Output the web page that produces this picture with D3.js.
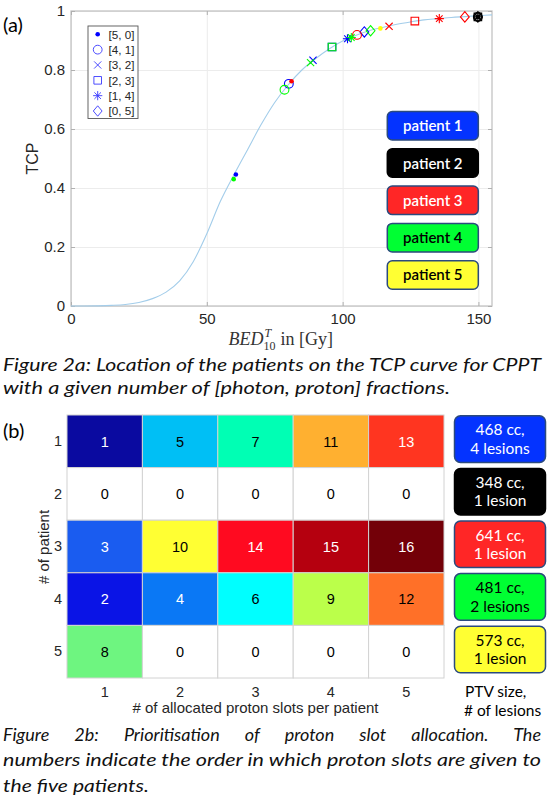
<!DOCTYPE html>
<html>
<head>
<meta charset="utf-8">
<script src="https://cdn.jsdelivr.net/npm/d3@7"></script>
<style>
  body { margin: 0; background: #fff; }
  svg { display: block; }
</style>
</head>
<body>
<div id="chart"></div>
<script>
// ---- data ----
// TCP curve (BED in Gy, TCP)
const bedCurve = [0, 5, 10, 15, 20, 25, 30, 35, 40, 45, 50, 55, 60, 65, 70, 75, 80, 85, 90, 95, 100, 105, 110, 115, 120, 125, 130, 135, 140, 145, 150, 155]
const tcpCurve = [0, 0, 0.0005, 0.002, 0.005, 0.012, 0.025, 0.047, 0.085, 0.15, 0.245, 0.355, 0.445, 0.53, 0.615, 0.69, 0.75, 0.8, 0.838, 0.871, 0.898, 0.918, 0.934, 0.945, 0.955, 0.963, 0.97, 0.974, 0.978, 0.981, 0.984, 0.987]

// [photon, proton] fractions and their marker
const fractionLabels = ['[5, 0]', '[4, 1]', '[3, 2]', '[2, 3]', '[1, 4]', '[0, 5]']
const markerTypes = ['dot', 'circle', 'x', 'square', 'asterisk', 'diamond']

const patientNames = ['patient 1', 'patient 2', 'patient 3', 'patient 4', 'patient 5']
const patientColors = ['#0000ff', '#000000', '#ff0000', '#00ff00', '#ffff00']
const boxColors = ['#0433ff', '#000000', '#ff2626', '#00ff33', '#ffff33']
const boxTextColors = ['#ffffff', '#ffffff', '#ffffff', '#000000', '#000000']

// patient positions on the curve, one entry per fraction split (in fractionLabels order)
const bedP1 = [60.7, 80.2, 89.1, 96.1, 101.8, 108.0]
const tcpP1 = [0.446, 0.753, 0.833, 0.878, 0.906, 0.929]
const bedP2 = [149.8, 149.8, 149.8, 149.8, 149.8, 149.8]
const tcpP2 = [0.98, 0.98, 0.98, 0.98, 0.98, 0.98]
const bedP3 = [81.2, 105.3, 117.1, 126.6, 135.6, 145.0]
const tcpP3 = [0.762, 0.919, 0.948, 0.966, 0.974, 0.98]
const bedP4 = [59.9, 78.6, 88.2, 96.1, 103.2, 110.3]
const tcpP4 = [0.430, 0.733, 0.825, 0.878, 0.910, 0.933]
const bedP5 = [113.9]
const tcpP5 = [0.941]

const xTicksA = [0, 50, 100, 150]
const yTicksA = [0, 0.2, 0.4, 0.6, 0.8, 1]

// heatmap: order in which proton slots are given
const slotCols = ['1', '2', '3', '4', '5']
const patientRows = ['1', '2', '3', '4', '5']
const slotOrder = [
  [1, 5, 7, 11, 13],
  [0, 0, 0, 0, 0],
  [3, 10, 14, 15, 16],
  [2, 4, 6, 9, 12],
  [8, 0, 0, 0, 0]
]
const orderValues = d3.range(0, 17)
const orderColors = ['#ffffff', '#0a0aa0', '#0a14e6', '#1a5cf0', '#0a78f5', '#00bff5', '#00ffff', '#00ffb4', '#6ef580',
  '#bbff4a', '#ffff33', '#ffb030', '#ff7028', '#ff3520', '#ff0a20', '#b5000f', '#730008']
const ptvLabels = [['468 cc,', '4 lesions'], ['348 cc,', '1 lesion'], ['641 cc,', '1 lesion'], ['481 cc,', '2 lesions'], ['573 cc,', '1 lesion']]

// ---- drawing ----
const svg = d3.select('#chart')
  .append('svg')
  .attr('width', 549)
  .attr('height', 800)

svg.append('rect').attr('width', 549).attr('height', 800).attr('fill', '#fff')

const sans = 'Liberation Sans, Arial, sans-serif'
const cal = 'Lato, Open Sans, sans-serif'

// ===== panel (a) =====
const x = d3.scaleLinear().domain([0, 155]).range([71, 492])
const y = d3.scaleLinear().domain([0, 1]).range([306, 11])
const plotH = y(0) - y(1)
const plotW = x(155) - x(0)

// grid
svg.append('g')
  .attr('transform', `translate(0,${y(0)})`)
  .call(d3.axisBottom(x).tickValues(xTicksA).tickSize(-plotH).tickFormat(''))
  .call(g => g.select('.domain').remove())
  .call(g => g.selectAll('line').attr('stroke', '#ececec'))
svg.append('g')
  .attr('transform', `translate(${x(0)},0)`)
  .call(d3.axisLeft(y).tickValues(yTicksA).tickSize(-plotW).tickFormat(''))
  .call(g => g.select('.domain').remove())
  .call(g => g.selectAll('line').attr('stroke', '#ececec'))

// box
svg.append('rect')
  .attr('x', x(0)).attr('y', y(1))
  .attr('width', plotW).attr('height', plotH)
  .attr('fill', 'none').attr('stroke', '#c4c4c4').attr('stroke-width', 1.3)

// ticks + labels
const styleAxis = g => {
  g.select('.domain').remove()
  g.selectAll('line').attr('stroke', '#b0b0b0')
  g.selectAll('text').attr('fill', '#262626').style('font-family', sans).style('font-size', '15px')
}
svg.append('g').attr('transform', `translate(0,${y(0)})`)
  .call(d3.axisBottom(x).tickValues(xTicksA).tickSize(-4).tickPadding(7)).call(styleAxis)
svg.append('g').attr('transform', `translate(0,${y(1)})`)
  .call(d3.axisTop(x).tickValues(xTicksA).tickSize(-4).tickFormat('')).call(styleAxis)
svg.append('g').attr('transform', `translate(${x(0)},0)`)
  .call(d3.axisLeft(y).tickValues(yTicksA).tickSize(-4).tickPadding(6).tickFormat(d3.format('~g'))).call(styleAxis)
svg.append('g').attr('transform', `translate(${x(155)},0)`)
  .call(d3.axisRight(y).tickValues(yTicksA).tickSize(-4).tickFormat('')).call(styleAxis)

// TCP curve
const curveData = bedCurve.map((b, i) => ({ bed: b, tcp: tcpCurve[i] }))
svg.append('path')
  .datum(curveData)
  .attr('d', d3.line().x(d => x(d.bed)).y(d => y(d.tcp)).curve(d3.curveMonotoneX))
  .attr('fill', 'none')
  .attr('stroke', '#a3cdea')
  .attr('stroke-width', 1.1)

// marker shapes
function markerPath(type) {
  const p = d3.path()
  if (type === 'dot') { p.arc(0, 0, 2.3, 0, 2 * Math.PI) }
  else if (type === 'circle') { p.moveTo(4.4, 0); p.arc(0, 0, 4.4, 0, 2 * Math.PI) }
  else if (type === 'x') { p.moveTo(-3.6, -3.6); p.lineTo(3.6, 3.6); p.moveTo(-3.6, 3.6); p.lineTo(3.6, -3.6) }
  else if (type === 'square') { p.rect(-3.8, -3.8, 7.6, 7.6) }
  else if (type === 'asterisk') {
    p.moveTo(-4.6, 0); p.lineTo(4.6, 0); p.moveTo(0, -4.6); p.lineTo(0, 4.6)
    p.moveTo(-3.3, -3.3); p.lineTo(3.3, 3.3); p.moveTo(-3.3, 3.3); p.lineTo(3.3, -3.3)
  }
  else if (type === 'diamond') { p.moveTo(0, -5.2); p.lineTo(4.4, 0); p.lineTo(0, 5.2); p.lineTo(-4.4, 0); p.closePath() }
  return p.toString()
}

const patientBed = [bedP1, bedP2, bedP3, bedP4, bedP5]
const patientTcp = [tcpP1, tcpP2, tcpP3, tcpP4, tcpP5]
const points = []
patientBed.forEach((arr, pi) => arr.forEach((b, fi) => points.push({ bed: b, tcp: patientTcp[pi][fi], type: markerTypes[fi], color: patientColors[pi] })))

svg.append('g').selectAll('path')
  .data(points)
  .join('path')
  .attr('transform', d => `translate(${x(d.bed)},${y(d.tcp)})`)
  .attr('d', d => markerPath(d.type))
  .attr('fill', d => d.type === 'dot' ? d.color : 'none')
  .attr('stroke', d => d.type === 'dot' ? 'none' : d.color)
  .attr('stroke-width', 1.1)

// legend
const legY = d3.scalePoint().domain(fractionLabels).range([34.3, 111])
svg.append('rect')
  .attr('x', 88).attr('y', 26).attr('width', 50).attr('height', 92.5)
  .attr('fill', '#fff').attr('stroke', '#555').attr('stroke-width', 0.9)
const leg = svg.append('g').selectAll('g')
  .data(fractionLabels)
  .join('g')
  .attr('transform', d => `translate(0,${legY(d)})`)
leg.append('path')
  .attr('transform', 'translate(97.7,0)')
  .attr('d', (d, i) => markerPath(markerTypes[i]))
  .attr('fill', (d, i) => markerTypes[i] === 'dot' ? '#0000ff' : 'none')
  .attr('stroke', (d, i) => markerTypes[i] === 'dot' ? 'none' : '#3a3aff')
  .attr('stroke-width', 0.9)
leg.append('text')
  .attr('x', 108.5).attr('dy', '0.36em')
  .text(d => d)
  .attr('fill', '#262626')
  .style('font-family', sans).style('font-size', '11.7px')

// patient colour boxes
const boxY = d3.scaleBand().domain(patientNames).range([111.5, 289.2]).paddingInner(0.236)
const pbox = svg.append('g').selectAll('g')
  .data(patientNames)
  .join('g')
  .attr('transform', d => `translate(387.3,${boxY(d)})`)
pbox.append('rect')
  .attr('width', 91).attr('height', boxY.bandwidth())
  .attr('rx', 5).attr('ry', 5)
  .attr('fill', (d, i) => boxColors[i])
  .attr('stroke', (d, i) => i === 1 ? '#000' : '#2b4a7e')
  .attr('stroke-width', 1.5)
pbox.append('text')
  .attr('x', 45.5).attr('y', boxY.bandwidth() / 2 + 5.5)
  .attr('text-anchor', 'middle')
  .text(d => d)
  .attr('fill', (d, i) => boxTextColors[i])
  .style('font-family', cal).style('font-size', '15px').style('font-weight', 600)

// axis titles
svg.append('text')
  .attr('transform', `translate(38,${(y(0) + y(1)) / 2}) rotate(-90)`)
  .attr('text-anchor', 'middle')
  .text('TCP')
  .attr('fill', '#262626')
  .style('font-family', sans).style('font-size', '16px')

// BED^T_10 in [Gy] as one text element
const xl = svg.append('text')
  .attr('y', 345)
  .attr('fill', '#333')
  .style('font-family', 'Liberation Serif, serif')
  .style('font-size', '18px')
xl.append('tspan').style('font-style', 'italic').text('BED')
const tSup = xl.append('tspan').attr('dx', 1).attr('dy', -8).style('font-size', '12px').style('font-style', 'italic').text('T')
const wT = tSup.node().getComputedTextLength()
xl.append('tspan').attr('dx', -wT - 1).attr('dy', 13).style('font-size', '12px').text('10')
xl.append('tspan').attr('dx', 5).attr('dy', -5).text('in [Gy]')
const wAll = xl.node().getComputedTextLength()
xl.attr('x', (x(0) + x(155)) / 2 - wAll / 2)

svg.append('text').attr('x', 3).attr('y', 32).text('(a)')
  .style('font-family', cal).style('font-size', '20px')

// ===== panel (b) =====
const xb = d3.scaleBand().domain(slotCols).range([67, 444])
const yb = d3.scaleBand().domain(patientRows).range([415, 678])
const colour = d3.scaleOrdinal().domain(orderValues).range(orderColors)

const cells = []
slotOrder.forEach((row, r) => row.forEach((v, c) => cells.push({ row: patientRows[r], col: slotCols[c], v })))

const cell = svg.append('g').selectAll('g')
  .data(cells)
  .join('g')
cell.append('rect')
  .attr('x', d => xb(d.col)).attr('y', d => yb(d.row))
  .attr('width', xb.bandwidth()).attr('height', yb.bandwidth())
  .attr('fill', d => colour(d.v))
  .attr('stroke', '#d2d2d2').attr('stroke-width', 1)
cell.append('text')
  .attr('x', d => xb(d.col) + xb.bandwidth() / 2)
  .attr('y', d => yb(d.row) + yb.bandwidth() / 2)
  .attr('dy', '0.36em')
  .attr('text-anchor', 'middle')
  .text(d => d.v)
  .attr('fill', d => d3.lab(colour(d.v)).l < 60 ? '#ffffff' : '#000000')
  .style('font-family', sans).style('font-size', '14.5px')

const styleHeat = g => {
  g.select('.domain').remove()
  g.selectAll('text').attr('fill', '#262626').style('font-family', sans).style('font-size', '14.5px')
}
svg.append('g').attr('transform', `translate(${xb.range()[0]},0)`)
  .call(d3.axisLeft(yb).tickSize(0).tickPadding(5)).call(styleHeat)
svg.append('g').attr('transform', `translate(0,${yb.range()[1]})`)
  .call(d3.axisBottom(xb).tickSize(0).tickPadding(9)).call(styleHeat)

svg.append('text')
  .attr('transform', `translate(49,547) rotate(-90)`)
  .attr('text-anchor', 'middle')
  .text('# of patient')
  .attr('fill', '#262626')
  .style('font-family', sans).style('font-size', '15px')
svg.append('text')
  .attr('x', (xb.range()[0] + xb.range()[1]) / 2).attr('y', 713)
  .attr('text-anchor', 'middle')
  .text('# of allocated proton slots per patient')
  .attr('fill', '#262626')
  .style('font-family', sans).style('font-size', '15px')

svg.append('text').attr('x', 3).attr('y', 438).text('(b)')
  .style('font-family', cal).style('font-size', '20px')

// PTV boxes
const ptv = svg.append('g').selectAll('g')
  .data(ptvLabels)
  .join('g')
  .attr('transform', (d, i) => `translate(454.5,${yb(patientRows[i]) + 0.8})`)
ptv.append('rect')
  .attr('width', 91).attr('height', yb.bandwidth() - 6)
  .attr('rx', 6).attr('ry', 6)
  .attr('fill', (d, i) => boxColors[i])
  .attr('stroke', (d, i) => i === 1 ? '#000' : '#2b4a7e')
  .attr('stroke-width', 1.5)
ptv.each(function (d, i) {
  d3.select(this).selectAll('text')
    .data(d)
    .join('text')
    .attr('x', 45.5).attr('y', (t, k) => 19.5 + k * 18.5)
    .attr('text-anchor', 'middle')
    .text(t => t)
    .attr('fill', boxTextColors[i])
    .style('font-family', cal).style('font-size', '15.5px')
})
svg.append('text').attr('x', 465).attr('y', 697).text('PTV size,')
  .style('font-family', cal).style('font-size', '15.5px')
svg.append('text').attr('x', 464).attr('y', 716).text('# of lesions')
  .style('font-family', cal).style('font-size', '15.5px')

// ===== captions =====
function caption(txt, yPos, width, justify) {
  const t = svg.append('text').attr('x', 3).attr('y', yPos).text(txt)
    .style('font-family', cal).style('font-size', '18px').style('font-style', 'italic')
    .attr('fill', '#111')
  if (justify) {
    const nat = t.node().getComputedTextLength()
    const gaps = txt.split(' ').length - 1
    t.style('word-spacing', ((width - nat) / gaps) + 'px')
  } else {
    t.attr('textLength', width).attr('lengthAdjust', 'spacingAndGlyphs')
  }
}
caption('Figure 2a: Location of the patients on the TCP curve for CPPT', 371, 538, false)
caption('with a given number of [photon, proton] fractions.', 394, 447, false)
caption('Figure 2b: Prioritisation of proton slot allocation. The', 741, 538, true)
caption('numbers indicate the order in which proton slots are given to', 766, 538, false)
caption('the five patients.', 792, 146, false)
</script>
</body>
</html>
